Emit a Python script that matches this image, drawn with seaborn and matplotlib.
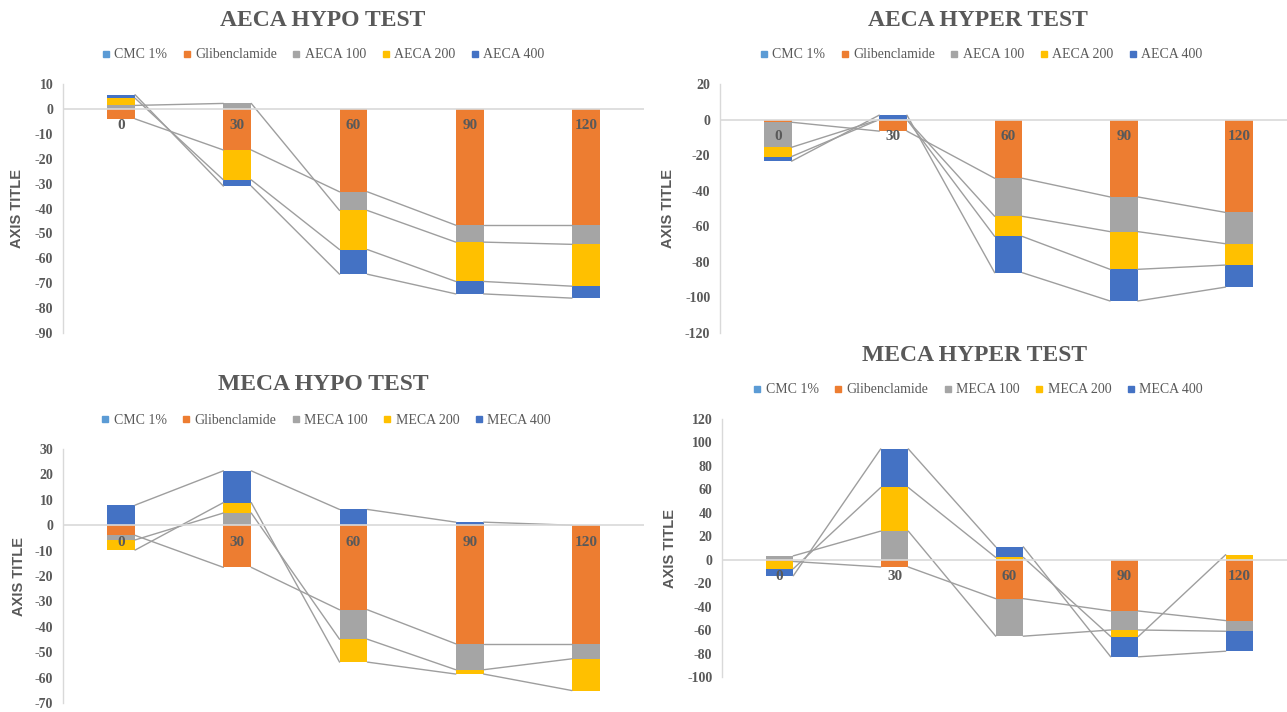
import matplotlib
matplotlib.use('Agg')
import matplotlib.pyplot as plt
import seaborn as sns
from matplotlib.lines import Line2D

# time points (min)
times = ['0', '30', '60', '90', '120']

colors = ['#5B9BD5', '#ED7D31', '#A5A5A5', '#FFC000', '#4472C4']

aeca_names = ['CMC 1%', 'Glibenclamide', 'AECA 100', 'AECA 200', 'AECA 400']
meca_names = ['CMC 1%', 'Glibenclamide', 'MECA 100', 'MECA 200', 'MECA 400']

# AECA hypo test
aeca_hypo_cmc = [0, 0, 0, 0, 0]
aeca_hypo_glib = [-4.0, -16.5, -33.3, -46.7, -46.7]
aeca_hypo_100 = [1.4, 2.2, -7.5, -6.8, -7.7]
aeca_hypo_200 = [2.9, -12.0, -15.7, -15.8, -16.8]
aeca_hypo_400 = [1.4, -2.5, -9.9, -5.0, -4.8]

# AECA hyper test
aeca_hyper_cmc = [0, 0, 0, 0, 0]
aeca_hyper_glib = [-1.5, -6.5, -33.0, -43.5, -52.2]
aeca_hyper_100 = [-14.1, 0, -21.4, -19.5, -17.6]
aeca_hyper_200 = [-5.2, 0, -11.3, -21.2, -12.0]
aeca_hyper_400 = [-2.6, 2.5, -20.4, -17.8, -12.4]

# MECA hypo test
meca_hypo_cmc = [0, 0, 0, 0, 0]
meca_hypo_glib = [-4.0, -16.6, -33.3, -46.7, -46.7]
meca_hypo_100 = [-1.8, 4.8, -11.6, -10.2, -5.9]
meca_hypo_200 = [-4.0, 4.1, -9.0, -1.7, -12.5]
meca_hypo_400 = [7.9, 12.5, 6.2, 1.2, 0]

# MECA hyper test
meca_hyper_cmc = [0, 0, 0, 0, 0]
meca_hyper_glib = [-1.5, -6.2, -33.2, -43.7, -51.9]
meca_hyper_100 = [3.3, 24.4, -32.0, -16.2, -9.1]
meca_hyper_200 = [-6.2, 37.2, 2.0, -5.6, 4.3]
meca_hyper_400 = [-6.0, 32.9, 9.0, -17.3, -17.0]

W, H = 1287, 712
TXT = '#595959'
BAR_W = 0.24


def stack_ends(series):
    """Excel-style stacking: positives go up from 0, negatives go down."""
    pos = [0.0] * len(times)
    neg = [0.0] * len(times)
    ends = []
    for vals in series:
        e = []
        for i, v in enumerate(vals):
            if v >= 0:
                pos[i] += v
                e.append(pos[i])
            else:
                neg[i] += v
                e.append(neg[i])
        ends.append(e)
    return ends


def draw_panel(fig, box, title, title_xy, legend_xy, ylab_x, names, series, ylim, step):
    left, right, top, bottom = box
    ax = fig.add_axes([left / W, 1 - bottom / H, (right - left) / W, (bottom - top) / H])
    ends = stack_ends(series)

    # draw longest first so the inner segments cover it
    for color, e in reversed(list(zip(colors, ends))):
        sns.barplot(x=times, y=e, order=times, color=color, width=BAR_W,
                    saturation=1, errorbar=None, ax=ax, zorder=2, linewidth=0)

    # series lines between bar edges
    for e in ends[1:]:
        for i in range(len(times) - 1):
            ax.plot([i + BAR_W / 2, i + 1 - BAR_W / 2], [e[i], e[i + 1]],
                    color='#9E9E9E', lw=1.0, zorder=3)

    ax.axhline(0, color='#D9D9D9', lw=1.2, zorder=4)

    for i, t in enumerate(times):
        ax.annotate(t, (i, 0), xytext=(0, -17), textcoords='offset pixels',
                    ha='center', va='center', fontsize=11, fontweight='bold',
                    color=TXT, zorder=5)

    ax.set_xlim(-0.5, len(times) - 0.5)
    ax.set_ylim(*ylim)
    ticks = list(range(ylim[0], ylim[1] + 1, step))
    ax.set_yticks(ticks)
    ax.set_yticklabels([str(t) for t in ticks], fontweight='bold')
    ax.set_xticks([])
    ax.set_xlabel('')
    ax.set_ylabel('')
    ax.tick_params(axis='y', length=4, width=1, color='#D9D9D9',
                   labelcolor=TXT, labelsize=10, pad=3)
    for s in ['top', 'right', 'bottom']:
        ax.spines[s].set_visible(False)
    ax.spines['left'].set_color('#D9D9D9')
    ax.spines['left'].set_linewidth(1)
    ax.set_facecolor('none')

    fig.text(ylab_x / W, 1 - (top + bottom) / 2 / H, 'AXIS TITLE', rotation=90,
             ha='center', va='center', family=['Liberation Sans', 'DejaVu Sans'],
             fontweight='bold', fontsize=10.5, color=TXT)

    fig.text(title_xy[0] / W, 1 - title_xy[1] / H, title, ha='center', va='center',
             fontsize=17, fontweight='bold', color=TXT)

    handles = [Line2D([], [], marker='s', linestyle='', markersize=4.5,
                      markerfacecolor=c, markeredgecolor=c) for c in colors]
    fig.legend(handles, names, loc='center',
               bbox_to_anchor=(legend_xy[0] / W, 1 - legend_xy[1] / H),
               ncol=5, frameon=False, fontsize=10, labelcolor=TXT,
               handlelength=0.6, handletextpad=0.3, columnspacing=1.1)
    return ax


sns.set_theme(style='white')
plt.rcParams['font.family'] = ['Liberation Serif', 'DejaVu Serif']
plt.rcParams['axes.unicode_minus'] = False

fig = plt.figure(figsize=(W / 100, H / 100), dpi=100)

draw_panel(fig, (63, 644, 84, 333), 'AECA HYPO TEST', (323, 20), (323, 55), 17,
           aeca_names,
           [aeca_hypo_cmc, aeca_hypo_glib, aeca_hypo_100, aeca_hypo_200, aeca_hypo_400],
           (-90, 10), 10)

draw_panel(fig, (720, 1297, 84, 333), 'AECA HYPER TEST', (978, 20), (981, 55), 668,
           aeca_names,
           [aeca_hyper_cmc, aeca_hyper_glib, aeca_hyper_100, aeca_hyper_200, aeca_hyper_400],
           (-120, 20), 20)

draw_panel(fig, (63, 644, 449, 703), 'MECA HYPO TEST', (323, 385), (326, 420), 19,
           meca_names,
           [meca_hypo_cmc, meca_hypo_glib, meca_hypo_100, meca_hypo_200, meca_hypo_400],
           (-70, 30), 10)

draw_panel(fig, (722, 1297, 419, 677), 'MECA HYPER TEST', (975, 355), (978, 390), 670,
           meca_names,
           [meca_hyper_cmc, meca_hyper_glib, meca_hyper_100, meca_hyper_200, meca_hyper_400],
           (-100, 120), 20)

fig.savefig('out.png', dpi=100)
